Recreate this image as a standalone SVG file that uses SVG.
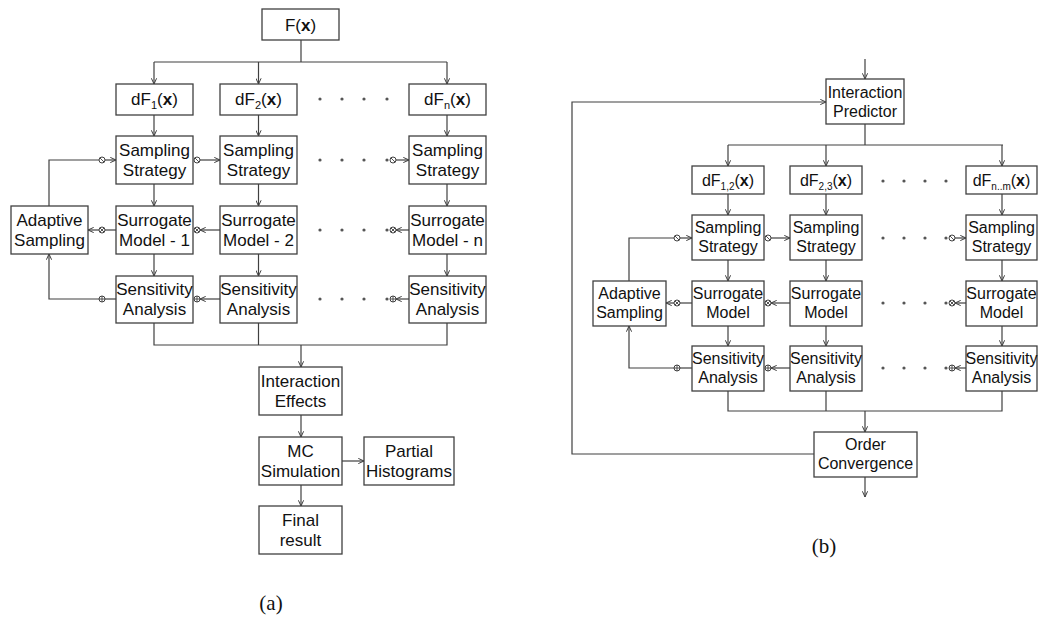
<svg xmlns="http://www.w3.org/2000/svg" width="1038" height="620" viewBox="0 0 1038 620">
<defs>
<marker id="ah" viewBox="0 0 6 6" refX="6" refY="3" markerWidth="6" markerHeight="6" markerUnits="userSpaceOnUse" orient="auto">
<path d="M0.3,0.4 L6,3 L0.3,5.6" fill="none" stroke="#404040" stroke-width="1"/>
</marker>
<g id="sl"><circle r="3" fill="#fff" stroke="#404040" stroke-width="1"/><path d="M-2.1,-2.1 L2.1,2.1" stroke="#404040" stroke-width="0.9"/></g>
<g id="ox"><circle r="3" fill="#fff" stroke="#404040" stroke-width="1"/><path d="M-2.1,-2.1 L2.1,2.1 M-2.1,2.1 L2.1,-2.1" stroke="#404040" stroke-width="0.9"/></g>
<g id="op"><circle r="3" fill="#fff" stroke="#404040" stroke-width="1"/><path d="M-3,0 H3 M0,-3 V3" stroke="#404040" stroke-width="0.9"/></g>
</defs>
<style>
rect{fill:#fff;stroke:#404040;stroke-width:1.3}
.c path{fill:none;stroke:#404040;stroke-width:1.2}
.a{marker-end:url(#ah)}
text{font-family:"Liberation Sans",Arial,sans-serif;fill:#111;text-anchor:middle}
.L{font-size:17px}
.R{font-size:16px}
.cap{font-family:"Liberation Serif","Times New Roman",serif;font-size:21px}
.d{fill:#555}
</style>
<rect x="0" y="0" width="1038" height="620" style="fill:#fff;stroke:none"/>

<!-- connectors (a) -->
<g class="c" id="conn-a">
<path d="M301,40 V62 M154,62 H447"/>
<path class="a" d="M154,62 V84"/><path class="a" d="M258.5,62 V84"/><path class="a" d="M447,62 V84"/>
<path class="a" d="M154,115 V136"/><path class="a" d="M258.5,115 V136"/><path class="a" d="M447,115 V136"/>
<path class="a" d="M154,184 V206"/><path class="a" d="M258.5,184 V206"/><path class="a" d="M447,184 V206"/>
<path class="a" d="M154,254 V276"/><path class="a" d="M258.5,254 V276"/><path class="a" d="M447,254 V276"/>
<path d="M49,206 V160 H99"/><path class="a" d="M105,160 H116"/>
<path class="a" d="M200,160 H220"/><path class="a" d="M396,160 H409"/>
<path d="M116,230 H105"/><path class="a" d="M99,230 H88"/>
<path class="a" d="M220,230 H200"/><path class="a" d="M409,230 H396"/>
<path d="M116,299 H105"/><path class="a" d="M99,299 H49 V254"/>
<path class="a" d="M220,299 H200"/><path class="a" d="M409,299 H396"/>
<path d="M154,323 V345 H447 V323 M258.5,323 V345"/>
<path class="a" d="M301,345 V367"/>
<path class="a" d="M301,415 V437"/>
<path class="a" d="M342,461 H364"/>
<path class="a" d="M301,485 V506"/>
<use href="#sl" x="102" y="160"/><use href="#sl" x="197" y="160"/><use href="#sl" x="393" y="160"/>
<use href="#ox" x="102" y="230"/><use href="#ox" x="197" y="230"/><use href="#ox" x="393" y="230"/>
<use href="#op" x="102" y="299"/><use href="#op" x="197" y="299"/><use href="#op" x="393" y="299"/>
<g class="d">
<circle cx="320" cy="99" r="1.6"/><circle cx="342" cy="99" r="1.6"/><circle cx="364" cy="99" r="1.6"/><circle cx="387" cy="99" r="1.6"/>
<circle cx="320" cy="160" r="1.6"/><circle cx="342" cy="160" r="1.6"/><circle cx="364" cy="160" r="1.6"/><circle cx="387" cy="160" r="1.6"/>
<circle cx="320" cy="230" r="1.6"/><circle cx="342" cy="230" r="1.6"/><circle cx="364" cy="230" r="1.6"/><circle cx="387" cy="230" r="1.6"/>
<circle cx="320" cy="299" r="1.6"/><circle cx="342" cy="299" r="1.6"/><circle cx="364" cy="299" r="1.6"/><circle cx="387" cy="299" r="1.6"/>
</g>
</g>

<!-- nodes (a) -->
<g id="a-F"><rect x="262" y="9" width="77" height="31"/><text class="L" x="300.5" y="31">F(<tspan font-weight="bold">x</tspan>)</text></g>
<g id="a-dF1"><rect x="116" y="84" width="77" height="31"/><text class="L" x="154.5" y="105">dF<tspan font-size="11" dy="4">1</tspan><tspan dy="-4">(</tspan><tspan font-weight="bold">x</tspan>)</text></g>
<g id="a-dF2"><rect x="220" y="84" width="77" height="31"/><text class="L" x="258.5" y="105">dF<tspan font-size="11" dy="4">2</tspan><tspan dy="-4">(</tspan><tspan font-weight="bold">x</tspan>)</text></g>
<g id="a-dFn"><rect x="409" y="84" width="77" height="31"/><text class="L" x="447.5" y="105">dF<tspan font-size="11" dy="4">n</tspan><tspan dy="-4">(</tspan><tspan font-weight="bold">x</tspan>)</text></g>
<g id="a-SS1"><rect x="116" y="136" width="77" height="48"/><text class="L" x="154.5" y="156">Sampling</text><text class="L" x="154.5" y="176">Strategy</text></g>
<g id="a-SS2"><rect x="220" y="136" width="77" height="48"/><text class="L" x="258.5" y="156">Sampling</text><text class="L" x="258.5" y="176">Strategy</text></g>
<g id="a-SSn"><rect x="409" y="136" width="77" height="48"/><text class="L" x="447.5" y="156">Sampling</text><text class="L" x="447.5" y="176">Strategy</text></g>
<g id="a-AS"><rect x="11" y="206" width="77" height="48"/><text class="L" x="49.5" y="226">Adaptive</text><text class="L" x="49.5" y="246">Sampling</text></g>
<g id="a-SM1"><rect x="116" y="206" width="77" height="48"/><text class="L" x="154.5" y="226">Surrogate</text><text class="L" x="154.5" y="246">Model - 1</text></g>
<g id="a-SM2"><rect x="220" y="206" width="77" height="48"/><text class="L" x="258.5" y="226">Surrogate</text><text class="L" x="258.5" y="246">Model - 2</text></g>
<g id="a-SMn"><rect x="409" y="206" width="77" height="48"/><text class="L" x="447.5" y="226">Surrogate</text><text class="L" x="447.5" y="246">Model - n</text></g>
<g id="a-SA1"><rect x="116" y="276" width="77" height="47"/><text class="L" x="154.5" y="295">Sensitivity</text><text class="L" x="154.5" y="315">Analysis</text></g>
<g id="a-SA2"><rect x="220" y="276" width="77" height="47"/><text class="L" x="258.5" y="295">Sensitivity</text><text class="L" x="258.5" y="315">Analysis</text></g>
<g id="a-SAn"><rect x="409" y="276" width="77" height="47"/><text class="L" x="447.5" y="295">Sensitivity</text><text class="L" x="447.5" y="315">Analysis</text></g>
<g id="a-IE"><rect x="259" y="367" width="83" height="48"/><text class="L" x="300.5" y="387">Interaction</text><text class="L" x="300.5" y="407">Effects</text></g>
<g id="a-MC"><rect x="259" y="437" width="83" height="48"/><text class="L" x="300.5" y="457">MC</text><text class="L" x="300.5" y="477">Simulation</text></g>
<g id="a-PH"><rect x="364" y="437" width="90" height="48"/><text class="L" x="409" y="457">Partial</text><text class="L" x="409" y="477">Histograms</text></g>
<g id="a-FR"><rect x="259" y="506" width="83" height="48"/><text class="L" x="300.5" y="526">Final</text><text class="L" x="300.5" y="546">result</text></g>
<text class="cap" x="271" y="610">(a)</text>

<!-- connectors (b) -->
<g class="c" id="conn-b">
<path class="a" d="M865,59 V79"/>
<path class="a" d="M814,454 H572 V102 H826"/>
<path d="M865,124 V145 M728,145 H1003"/>
<path class="a" d="M728,145 V166"/><path class="a" d="M826,145 V166"/><path class="a" d="M1002,145 V166"/>
<path class="a" d="M728,194 V215"/><path class="a" d="M826,194 V215"/><path class="a" d="M1002,194 V215"/>
<path class="a" d="M728,260 V281"/><path class="a" d="M826,260 V281"/><path class="a" d="M1002,260 V281"/>
<path class="a" d="M728,326 V346"/><path class="a" d="M826,326 V346"/><path class="a" d="M1002,326 V346"/>
<path d="M629,281 V238 H674"/><path class="a" d="M680,238 H692"/>
<path class="a" d="M771,238 H790"/><path class="a" d="M955,238 H966"/>
<path d="M692,303 H680"/><path class="a" d="M674,303 H666"/>
<path class="a" d="M790,303 H771"/><path class="a" d="M966,303 H955"/>
<path d="M692,368 H680"/><path class="a" d="M674,368 H629 V326"/>
<path class="a" d="M790,368 H771"/><path class="a" d="M966,368 H955"/>
<path d="M728,391 V411 H1002 V391 M826,391 V411"/>
<path class="a" d="M865,411 V432"/>
<path class="a" d="M865,477 V497"/>
<use href="#sl" x="677" y="238"/><use href="#sl" x="768" y="238"/><use href="#sl" x="952" y="238"/>
<use href="#ox" x="677" y="303"/><use href="#ox" x="768" y="303"/><use href="#ox" x="952" y="303"/>
<use href="#op" x="677" y="368"/><use href="#op" x="768" y="368"/><use href="#op" x="952" y="368"/>
<g class="d">
<circle cx="883" cy="181" r="1.6"/><circle cx="904" cy="181" r="1.6"/><circle cx="925" cy="181" r="1.6"/><circle cx="946" cy="181" r="1.6"/>
<circle cx="883" cy="238" r="1.6"/><circle cx="904" cy="238" r="1.6"/><circle cx="925" cy="238" r="1.6"/><circle cx="946" cy="238" r="1.6"/>
<circle cx="883" cy="303" r="1.6"/><circle cx="904" cy="303" r="1.6"/><circle cx="925" cy="303" r="1.6"/><circle cx="946" cy="303" r="1.6"/>
<circle cx="883" cy="368" r="1.6"/><circle cx="904" cy="368" r="1.6"/><circle cx="925" cy="368" r="1.6"/><circle cx="946" cy="368" r="1.6"/>
</g>
</g>

<!-- nodes (b) -->
<g id="b-IP"><rect x="826" y="79" width="78" height="45"/><text class="R" x="865" y="98">Interaction</text><text class="R" x="865" y="117">Predictor</text></g>
<g id="b-dF12"><rect x="692" y="166" width="72" height="28"/><text class="R" x="728" y="186">dF<tspan font-size="10" dy="4">1,2</tspan><tspan dy="-4">(</tspan><tspan font-weight="bold">x</tspan>)</text></g>
<g id="b-dF23"><rect x="790" y="166" width="72" height="28"/><text class="R" x="826" y="186">dF<tspan font-size="10" dy="4">2,3</tspan><tspan dy="-4">(</tspan><tspan font-weight="bold">x</tspan>)</text></g>
<g id="b-dFnm"><rect x="966" y="166" width="71" height="28"/><text class="R" x="1001.5" y="186">dF<tspan font-size="10" dy="4">n..m</tspan><tspan dy="-4">(</tspan><tspan font-weight="bold">x</tspan>)</text></g>
<g id="b-SS1"><rect x="692" y="215" width="72" height="45"/><text class="R" x="728" y="233">Sampling</text><text class="R" x="728" y="252">Strategy</text></g>
<g id="b-SS2"><rect x="790" y="215" width="72" height="45"/><text class="R" x="826" y="233">Sampling</text><text class="R" x="826" y="252">Strategy</text></g>
<g id="b-SSn"><rect x="966" y="215" width="71" height="45"/><text class="R" x="1001.5" y="233">Sampling</text><text class="R" x="1001.5" y="252">Strategy</text></g>
<g id="b-AS"><rect x="593" y="281" width="73" height="45"/><text class="R" x="629.5" y="299">Adaptive</text><text class="R" x="629.5" y="318">Sampling</text></g>
<g id="b-SM1"><rect x="692" y="281" width="72" height="45"/><text class="R" x="728" y="299">Surrogate</text><text class="R" x="728" y="318">Model</text></g>
<g id="b-SM2"><rect x="790" y="281" width="72" height="45"/><text class="R" x="826" y="299">Surrogate</text><text class="R" x="826" y="318">Model</text></g>
<g id="b-SMn"><rect x="966" y="281" width="71" height="45"/><text class="R" x="1001.5" y="299">Surrogate</text><text class="R" x="1001.5" y="318">Model</text></g>
<g id="b-SA1"><rect x="692" y="346" width="72" height="45"/><text class="R" x="728" y="364">Sensitivity</text><text class="R" x="728" y="383">Analysis</text></g>
<g id="b-SA2"><rect x="790" y="346" width="72" height="45"/><text class="R" x="826" y="364">Sensitivity</text><text class="R" x="826" y="383">Analysis</text></g>
<g id="b-SAn"><rect x="966" y="346" width="71" height="45"/><text class="R" x="1001.5" y="364">Sensitivity</text><text class="R" x="1001.5" y="383">Analysis</text></g>
<g id="b-OC"><rect x="814" y="432" width="103" height="45"/><text class="R" x="865.5" y="450">Order</text><text class="R" x="865.5" y="469">Convergence</text></g>
<text class="cap" x="824" y="553">(b)</text>
</svg>
